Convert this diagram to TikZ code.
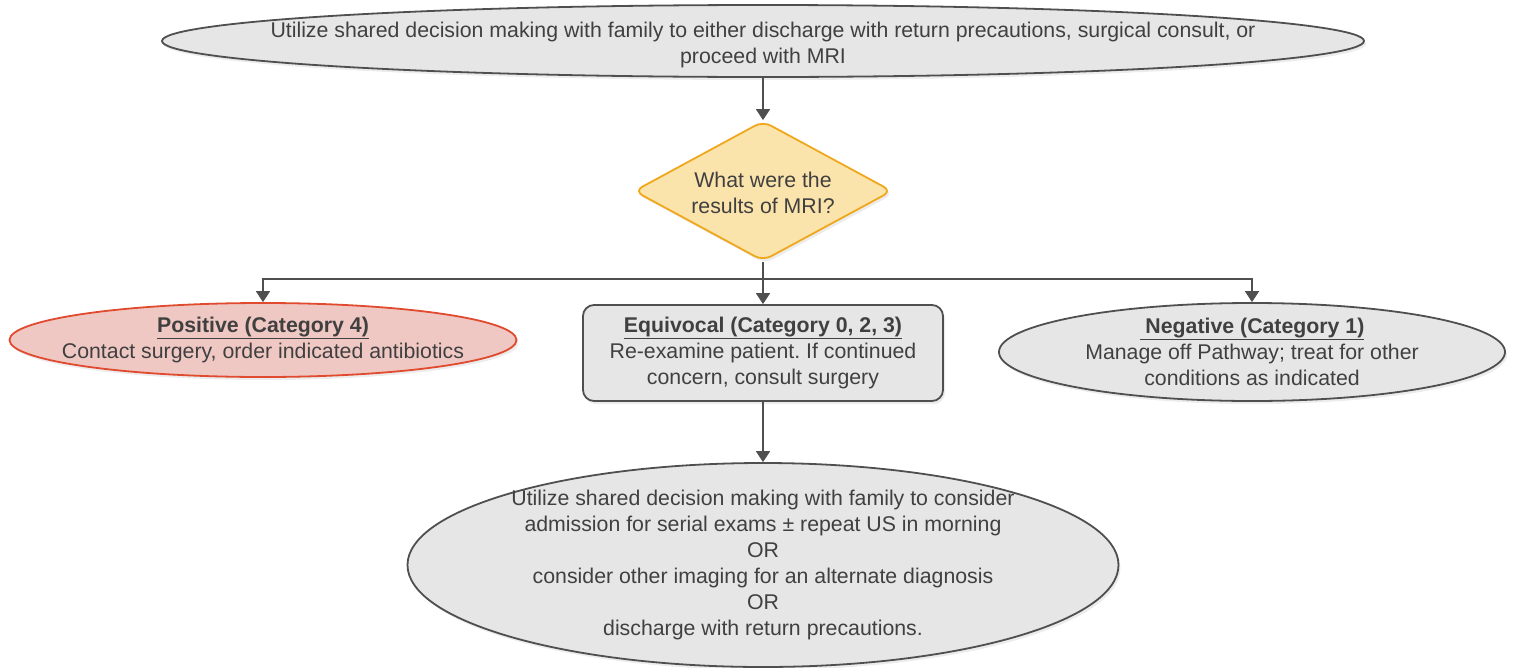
\documentclass[tikz,border=0pt]{standalone}
\usepackage{fontspec}
\setmainfont{Liberation Sans}
\usetikzlibrary{shapes.geometric,arrows.meta,shadows}
\definecolor{linegray}{HTML}{4F4F4F}
\definecolor{fillgray}{HTML}{E6E6E6}
\definecolor{txt}{HTML}{404040}
\definecolor{posfill}{HTML}{F0C8C3}
\definecolor{posline}{HTML}{E04A2E}
\definecolor{decfill}{HTML}{FBE3AC}
\definecolor{decline}{HTML}{EFA81C}
\frenchspacing
\begin{document}
\begin{tikzpicture}[x=1pt,y=-1pt,
  txtstyle/.style={font=\fontsize{21.3}{26}\selectfont, text=txt, align=center, inner sep=0pt},
  shade/.style={drop shadow={opacity=0.15, shadow xshift=2pt, shadow yshift=-3pt}},
  ell/.style={ellipse, draw=linegray, line width=1.8pt, fill=fillgray, inner sep=0pt, shade},
  posell/.style={ellipse, draw=posline, line width=1.8pt, fill=posfill, inner sep=0pt, shade},
  decbox/.style={diamond, draw=decline, line width=1.8pt, fill=decfill, inner sep=0pt, rounded corners=9pt, shade},
  rbox/.style={rectangle, draw=linegray, line width=1.8pt, fill=fillgray, rounded corners=11pt, inner sep=0pt, shade},
  conn/.style={draw=linegray, line width=1.8pt},
  arr/.style={conn, -{Triangle[width=14pt,length=11pt]}}]
\useasboundingbox (0,0) rectangle (1515,667);

\node[ell, minimum width=1202pt, minimum height=72pt,
  label={[txtstyle, yshift=-4pt]center:Utilize shared decision making with family to either discharge with return precautions, surgical consult, or\\proceed with MRI}]
  (top) at (763,41) {};

\node[decbox, minimum width=258pt, minimum height=140pt,
  label={[txtstyle, yshift=-2pt]center:What were the\\results of MRI?}]
  (dec) at (763,191) {};

\node[posell, minimum width=507pt, minimum height=74pt,
  label={[txtstyle]center:\underline{\textbf{Positive (Category 4)}}\\Contact surgery, order indicated antibiotics}]
  (pos) at (263,340) {};

\node[rbox, minimum width=360pt, minimum height=96pt,
  label={[txtstyle]center:\underline{\textbf{Equivocal (Category 0, 2, 3)}}\\Re-examine patient. If continued\\concern, consult surgery}]
  (equ) at (763,353) {};

\node[ell, minimum width=506pt, minimum height=98pt,
  label={[txtstyle]center:\underline{\textbf{\ Negative (Category 1)}}\\Manage off Pathway; treat for other\\conditions as indicated}]
  (neg) at (1252,352) {};

\node[ell, minimum width=711pt, minimum height=204pt,
  label={[txtstyle]center:Utilize shared decision making with family to consider\\admission for serial exams ± repeat US in morning\\OR\\consider other imaging for an alternate diagnosis\\OR\\discharge with return precautions.}]
  (bot) at (763,565) {};

\coordinate (j) at (763,279);

\draw[arr] (top.south) -- (dec.north);
\draw[conn] (dec.south) -- (j);
\draw[arr] (j) -| (pos.north);
\draw[arr] (j) -| (neg.north);
\draw[arr] (j) -- (equ.north);
\draw[arr] (equ.south) -- (bot.north);
\end{tikzpicture}
\end{document}
